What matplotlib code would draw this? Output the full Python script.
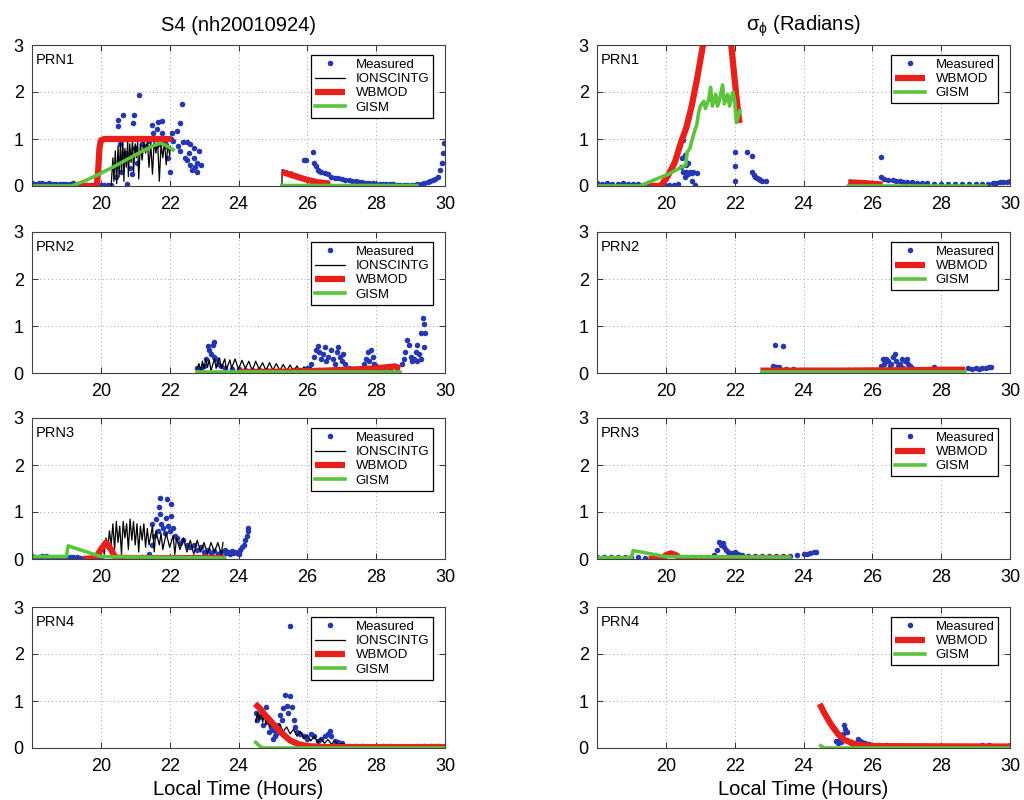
import numpy as np
import matplotlib
matplotlib.use("Agg")
import matplotlib.pyplot as plt

plt.rcParams["font.family"] = ["Liberation Sans", "DejaVu Sans"]
plt.rcParams["mathtext.fontset"] = "custom"
plt.rcParams["mathtext.rm"] = "Liberation Sans"

GAP = (np.nan, np.nan)

hour_ticks = [20, 22, 24, 26, 28, 30]
value_ticks = [0, 1, 2, 3]
prn_labels = ["PRN1", "PRN2", "PRN3", "PRN4"]

# ---------------- S4 column ----------------
s4_prn1_meas = [
    (18.0, .06), (18.1, .05), (18.2, .07), (18.3, .06), (18.4, .05), (18.5, .06), (18.6, .05),
    (18.7, .04), (18.8, .05), (18.9, .05), (19.0, .04), (19.1, .05), (19.2, .06), (19.3, .04),
    (19.4, .03), (19.5, .03), (19.6, .02), (19.7, .02), (19.8, .03), (19.9, .02), (20.0, .02),
    (20.1, .03), (20.2, .02), (20.3, .02),
    (20.4, 0.45), (20.45, 0.2), (20.5, 1.28), (20.5, 1.40), (20.55, 0.9), (20.6, 0.3), (20.65, 1.51),
    (20.7, 0.7), (20.75, 0.05), (20.8, 0.6), (20.85, 0.38), (20.9, 0.25), (20.94, 1.34), (20.97, 1.51),
    (21.0, 0.8), (21.05, 0.5), (21.11, 1.93), (21.2, 0.9), (21.3, 0.85), (21.4, 0.95), (21.5, 1.30),
    (21.52, 1.12), (21.6, 0.85), (21.63, 1.21), (21.66, 1.36), (21.7, 0.9), (21.78, 1.38), (21.78, 1.13),
    (21.85, 0.95), (21.9, 0.85), (21.95, 0.6), (22.0, 0.3), (22.05, 1.0), (22.07, 1.12), (22.1, 0.95),
    (22.2, 1.17), (22.25, 0.85), (22.3, 1.34), (22.3, 0.75), (22.36, 1.74), (22.4, 0.94), (22.45, 0.6),
    (22.5, 0.93), (22.5, 0.55), (22.55, 0.7), (22.6, 0.9), (22.6, 0.45), (22.65, 0.35), (22.7, 0.6),
    (22.7, 0.8), (22.75, 0.4), (22.8, 0.5), (22.8, 0.3), (22.85, 0.75), (22.9, 0.45),
    (25.9, 0.55), (25.95, 0.56), (26.17, 0.73), (26.2, 0.5), (26.25, 0.42), (26.3, 0.35), (26.35, 0.32),
    (26.4, 0.3), (26.5, 0.28), (26.6, 0.25), (26.7, 0.2), (26.8, 0.18), (26.9, 0.16), (27.0, 0.14),
    (27.1, 0.13), (27.2, 0.12), (27.3, 0.11), (27.4, 0.1), (27.5, 0.09), (27.6, 0.08), (27.7, 0.07),
    (27.8, 0.06), (27.9, 0.06), (28.0, 0.05), (28.1, 0.05), (28.2, 0.04), (28.3, 0.04), (28.4, 0.04),
    (28.5, 0.04), (28.6, 0.03), (28.7, 0.03), (28.8, 0.03), (28.9, 0.03), (29.0, 0.02), (29.1, 0.03),
    (29.2, 0.04), (29.3, 0.05), (29.4, 0.06), (29.5, 0.08), (29.55, 0.1), (29.65, 0.12), (29.7, 0.15),
    (29.8, 0.2), (29.86, 0.34), (29.9, 0.5), (29.95, 0.7), (29.97, 0.92),
]
s4_prn1_ion = [
    (20.30, 0.0), (20.35, 0.6), (20.38, 0.1), (20.42, 0.75), (20.46, 0.05), (20.5, 0.85), (20.53, 0.2),
    (20.57, 0.9), (20.6, 0.3), (20.64, 0.95), (20.67, 0.1), (20.7, 0.8), (20.74, 0.4), (20.78, 0.95),
    (20.8, 0.2), (20.84, 0.9), (20.88, 0.5), (20.92, 0.98), (20.95, 0.3), (21.0, 0.9), (21.03, 0.6),
    (21.07, 0.95), (21.1, 0.15), (21.15, 0.9), (21.2, 0.55), (21.25, 0.95), (21.3, 0.7), (21.35, 0.95),
    (21.4, 0.4), (21.45, 0.9), (21.5, 0.25), (21.55, 0.95), (21.6, 0.7), (21.65, 0.95), (21.7, 0.1),
    (21.75, 0.9), (21.8, 0.6), (21.85, 0.95), (21.9, 0.45), (21.95, 0.9), (22.0, 0.65), (22.02, 0.85),
    GAP,
    (25.26, 0.0), (25.27, 0.35), (25.35, 0.3), (25.4, 0.33), (25.5, 0.27), (25.55, 0.3), (25.65, 0.22),
    (25.7, 0.25), (25.8, 0.18), (25.9, 0.2), (26.0, 0.13), (26.1, 0.14), (26.2, 0.09), (26.3, 0.1),
    (26.45, 0.06), (26.6, 0.05), (26.7, 0.03),
]
s4_prn1_wb = [
    (19.2, 0.0), (19.88, 0.0), (19.92, 0.3), (19.96, 0.8), (20.0, 0.97), (20.1, 1.0), (21.0, 1.0),
    (22.06, 1.0), GAP,
    (25.26, 0.3), (25.6, 0.22), (26.0, 0.13), (26.3, 0.08), (26.66, 0.05),
]
s4_prn1_gism = [
    (18.0, 0.0), (19.16, 0.0), (19.6, 0.13), (20.0, 0.27), (20.4, 0.42), (20.8, 0.58), (21.2, 0.74),
    (21.5, 0.85), (21.72, 0.91), (21.85, 0.88), (22.1, 0.77), GAP,
    (25.26, 0.01), (29.18, 0.01),
]

s4_prn2_meas = [
    (22.8, 0.1), (22.9, 0.08), (23.0, 0.15), (23.05, 0.3), (23.1, 0.57), (23.15, 0.5), (23.2, 0.4),
    (23.25, 0.6), (23.3, 0.67), (23.3, 0.35), (23.35, 0.3), (23.4, 0.2), (23.5, 0.15), (23.6, 0.1),
    (23.8, 0.08), (24.0, 0.08), (24.2, 0.07), (24.4, 0.07), (24.6, 0.06), (24.8, 0.06), (25.0, 0.05),
    (25.2, 0.05), (25.4, 0.05), (25.6, 0.06), (25.8, 0.07), (26.0, 0.1), (26.1, 0.2), (26.2, 0.35),
    (26.25, 0.5), (26.3, 0.57), (26.35, 0.45), (26.4, 0.3), (26.45, 0.4), (26.5, 0.55), (26.55, 0.25),
    (26.6, 0.35), (26.7, 0.5), (26.75, 0.3), (26.8, 0.2), (26.85, 0.45), (26.9, 0.55), (26.95, 0.35),
    (27.0, 0.25), (27.05, 0.4), (27.1, 0.2), (27.2, 0.1), (27.4, 0.06), (27.6, 0.1), (27.65, 0.2),
    (27.7, 0.3), (27.75, 0.45), (27.8, 0.25), (27.85, 0.5), (27.9, 0.35), (27.95, 0.2), (28.0, 0.15),
    (28.2, 0.1), (28.4, 0.08), (28.6, 0.1), (28.75, 0.2), (28.8, 0.3), (28.85, 0.45), (28.9, 0.7),
    (28.95, 0.6), (29.0, 0.35), (29.05, 0.25), (29.1, 0.3), (29.15, 0.45), (29.2, 0.6), (29.25, 0.4),
    (29.3, 0.85), (29.35, 1.17), (29.4, 1.05), (29.42, 0.85), (29.38, 0.55), (29.3, 0.3), (29.2, 0.25),
]
s4_prn2_ion = [
    (22.8, 0.1), (22.85, 0.2), (22.9, 0.05), (22.95, 0.25), (23.0, 0.1), (23.05, 0.3), (23.1, 0.12),
    (23.15, 0.28), (23.2, 0.05), (23.3, 0.3), (23.35, 0.1), (23.45, 0.32), (23.5, 0.1), (23.6, 0.3),
    (23.65, 0.08), (23.75, 0.28), (23.8, 0.1), (23.9, 0.3), (24.0, 0.08), (24.1, 0.27), (24.2, 0.1),
    (24.3, 0.25), (24.4, 0.05), (24.5, 0.25), (24.6, 0.08), (24.7, 0.22), (24.8, 0.05), (24.9, 0.22),
    (25.0, 0.06), (25.1, 0.2), (25.2, 0.05), (25.3, 0.18), (25.4, 0.05), (25.5, 0.17), (25.6, 0.04),
    (25.7, 0.15), (25.8, 0.03), (25.9, 0.13), (26.0, 0.04), (26.1, 0.12), (26.2, 0.03), (26.35, 0.1),
    (26.5, 0.03), (26.6, 0.08), (26.8, 0.03), (27.0, 0.06), (27.2, 0.02),
]
s4_prn2_wb = [
    (24.0, 0.02), (25.5, 0.03), (26.5, 0.05), (27.5, 0.08), (28.0, 0.1), (28.4, 0.13), (28.55, 0.14),
    (28.7, 0.1),
]
s4_prn2_gism = [(22.8, 0.02), (28.7, 0.02)]

s4_prn3_meas = [
    (18.0, .06), (18.1, .05), (18.2, .05), (18.3, .06), (18.4, .06), (18.5, .05), (18.6, .05),
    (18.7, .04), (18.8, .04), (18.9, .05), (19.0, .04), (19.1, .05), (19.2, .05), (19.3, .04),
    (19.4, .03), (19.5, .03), (19.6, .03), (19.7, .02), (19.8, .02), (19.9, .03), (20.0, .03),
    (21.2, 0.05), (21.4, 0.1), (21.5, 0.3), (21.5, 0.74), (21.55, 0.5), (21.6, 0.85), (21.65, 0.6),
    (21.7, 1.1), (21.72, 1.3), (21.72, 0.95), (21.75, 0.75), (21.8, 0.65), (21.85, 0.55), (21.9, 0.88),
    (21.92, 1.27), (21.95, 0.7), (22.0, 0.6), (22.05, 1.17), (22.05, 0.92), (22.1, 0.67), (22.15, 0.5),
    (22.2, 0.45), (22.3, 0.35), (22.4, 0.4), (22.5, 0.3), (22.6, 0.25), (22.7, 0.3), (22.8, 0.2),
    (22.9, 0.25), (23.0, 0.15), (23.1, 0.2), (23.2, 0.12), (23.3, 0.18), (23.4, 0.1), (23.5, 0.15),
    (23.6, 0.2), (23.65, 0.12), (23.7, 0.15), (23.75, 0.1), (23.8, 0.18), (23.85, 0.12), (23.9, 0.15),
    (23.95, 0.12), (24.0, 0.1), (24.05, 0.2), (24.1, 0.25), (24.15, 0.3), (24.2, 0.4), (24.24, 0.49),
    (24.27, 0.6), (24.29, 0.67),
]
s4_prn3_ion = [
    (20.0, 0.05), (20.05, 0.3), (20.1, 0.1), (20.15, 0.45), (20.2, 0.2), (20.25, 0.6), (20.3, 0.3),
    (20.35, 0.75), (20.4, 0.2), (20.45, 0.8), (20.5, 0.35), (20.55, 0.7), (20.6, 0.1), (20.65, 0.8),
    (20.7, 0.45), (20.75, 0.75), (20.8, 0.2), (20.85, 0.85), (20.9, 0.4), (20.95, 0.8), (21.0, 0.3),
    (21.05, 0.75), (21.1, 0.15), (21.15, 0.7), (21.2, 0.4), (21.25, 0.75), (21.3, 0.25), (21.35, 0.65),
    (21.4, 0.3), (21.5, 0.7), (21.55, 0.15), (21.6, 0.6), (21.7, 0.3), (21.75, 0.55), (21.8, 0.2),
    (21.9, 0.55), (22.0, 0.25), (22.1, 0.5), (22.15, 0.1), (22.2, 0.45), (22.3, 0.2), (22.4, 0.45),
    (22.5, 0.15), (22.6, 0.4), (22.7, 0.1), (22.8, 0.4), (22.9, 0.15), (23.0, 0.35), (23.1, 0.1),
    (23.2, 0.35), (23.3, 0.15), (23.4, 0.35), (23.5, 0.1), (23.55, 0.35),
]
s4_prn3_wb = [
    (19.5, 0.0), (19.85, 0.02), (20.0, 0.2), (20.15, 0.35), (20.3, 0.2), (20.42, 0.03), (21.0, 0.02),
    (23.6, 0.02),
]
s4_prn3_gism = [(18.0, 0.05), (19.0, 0.05), (19.05, 0.28), (20.0, 0.05), (23.6, 0.02)]

s4_prn4_meas = [
    (24.5, 0.75), (24.55, 0.6), (24.6, 0.66), (24.65, 0.8), (24.7, 0.5), (24.75, 0.7), (24.8, 0.87),
    (24.85, 0.55), (24.9, 0.35), (24.95, 0.45), (25.0, 0.38), (25.0, 0.2), (25.05, 0.25), (25.1, 0.3),
    (25.15, 0.5), (25.2, 0.7), (25.25, 0.6), (25.3, 0.85), (25.35, 1.12), (25.4, 0.9), (25.45, 0.75),
    (25.5, 1.1), (25.5, 2.59), (25.55, 0.87), (25.6, 0.59), (25.65, 0.45), (25.7, 0.35), (25.8, 0.3),
    (25.9, 0.25), (26.0, 0.2), (26.1, 0.3), (26.2, 0.25), (26.3, 0.15), (26.4, 0.2), (26.5, 0.25),
    (26.6, 0.3), (26.66, 0.37), (26.7, 0.25), (26.8, 0.15), (26.9, 0.12), (27.0, 0.1), (27.2, 0.05),
    (27.4, 0.04), (27.6, 0.04), (27.8, 0.03), (28.0, 0.03), (28.2, 0.04), (28.4, 0.04), (28.6, 0.03),
    (28.8, 0.03), (29.0, 0.03), (29.2, 0.04), (29.4, 0.04), (29.6, 0.04), (29.8, 0.04), (30.0, 0.04),
]
s4_prn4_ion = [
    (24.5, 0.55), (24.55, 0.75), (24.6, 0.6), (24.65, 0.8), (24.7, 0.55), (24.75, 0.7), (24.8, 0.5),
    (24.85, 0.65), (24.9, 0.45), (25.0, 0.55), (25.1, 0.4), (25.2, 0.5), (25.3, 0.35), (25.4, 0.45),
    (25.5, 0.3), (25.6, 0.4), (25.7, 0.25), (25.8, 0.35), (25.9, 0.2), (26.0, 0.28), (26.1, 0.15),
    (26.2, 0.25), (26.3, 0.12), (26.4, 0.2), (26.5, 0.1), (26.6, 0.18), (26.7, 0.08), (26.8, 0.15),
    (26.9, 0.06), (27.0, 0.1), (27.2, 0.04), (27.5, 0.03), (28.0, 0.02), (29.0, 0.02), (30.0, 0.02),
]
s4_prn4_wb = [
    (24.48, 0.94), (24.6, 0.86), (24.75, 0.72), (25.0, 0.52), (25.25, 0.32), (25.5, 0.16),
    (25.75, 0.08), (26.0, 0.04), (26.5, 0.02), (30.0, 0.02),
]
s4_prn4_gism = [(24.5, 0.12), (24.6, 0.05), (24.7, 0.0), (30.0, 0.0)]

# ---------------- sigma phi column ----------------
sp_prn1_meas = [
    (18.0, .06), (18.15, .05), (18.3, .06), (18.45, .05), (18.6, .05), (18.75, .06), (18.9, .05),
    (19.05, .05), (19.2, .04), (19.35, .03), (19.5, .02), (19.65, .02), (19.8, .02), (19.95, .02),
    (20.1, .03), (20.25, .03), (20.35, .05),
    (20.5, 0.98), (20.45, 0.4), (20.48, 0.6), (20.5, 0.3), (20.55, 0.65), (20.55, 0.2), (20.6, 0.45),
    (20.6, 0.3), (20.65, 0.25), (20.65, 0.5), (20.7, 0.3), (20.75, 0.28), (20.75, 0.1), (20.8, 0.3),
    (20.85, 0.02), (20.9, 0.28),
    (22.0, 0.72), (22.0, 0.43), (22.0, 0.1), (22.35, 0.73), (22.5, 0.63), (22.5, 0.3), (22.55, 0.23),
    (22.6, 0.2), (22.65, 0.18), (22.7, 0.15), (22.75, 0.12), (22.8, 0.1), (22.9, 0.1),
    (26.26, 0.62), (26.26, 0.2), (26.35, 0.15), (26.45, 0.13), (26.6, 0.12), (26.7, 0.11), (26.8, 0.1),
    (26.9, 0.09), (27.0, 0.08), (27.15, 0.08), (27.3, 0.07), (27.45, 0.06), (27.6, 0.06), (27.8, 0.05),
    (28.0, 0.05), (28.2, 0.05), (28.4, 0.05), (28.6, 0.05), (28.8, 0.05), (29.0, 0.05), (29.2, 0.05),
    (29.35, 0.05), (29.5, 0.06), (29.6, 0.07), (29.7, 0.08), (29.8, 0.08), (29.9, 0.09), (30.0, 0.1),
]
sp_prn1_wb = [
    (19.5, 0.0), (19.85, 0.0), (20.05, 0.2), (20.26, 0.5), (20.45, 0.95), (20.6, 1.25), (20.75, 1.7),
    (20.9, 2.25), (21.07, 2.96), (21.3, 3.6), (21.5, 3.9), (21.7, 3.6), (21.9, 3.0), (22.05, 1.9),
    (22.14, 1.34), GAP,
    (25.3, 0.08), (25.8, 0.06), (26.3, 0.03),
]
sp_prn1_gism = [
    (18.0, 0.0), (19.25, 0.0), (19.5, 0.08), (19.8, 0.17), (20.1, 0.26), (20.3, 0.34), (20.58, 0.45),
    (20.62, 0.72), (20.7, 0.8), (20.75, 0.95), (20.85, 1.2), (20.9, 1.3), (20.95, 1.55), (21.0, 1.7),
    (21.1, 1.8), (21.15, 1.65), (21.25, 1.85), (21.3, 2.1), (21.35, 1.7), (21.45, 1.95), (21.5, 1.7),
    (21.55, 1.8), (21.65, 2.15), (21.7, 1.75), (21.8, 1.95), (21.85, 1.7), (21.95, 2.0), (22.0, 1.8),
    (22.05, 1.35), (22.15, 1.6), GAP,
    (25.3, 0.0), (29.3, 0.0),
]

sp_prn2_meas = [
    (22.9, 0.05), (23.1, 0.15), (23.16, 0.6), (23.2, 0.13), (23.3, 0.12), (23.41, 0.58), (23.5, 0.08),
    (23.7, 0.08), (23.9, 0.07), (24.1, 0.07), (24.3, 0.06), (24.5, 0.06), (24.7, 0.06), (24.9, 0.06),
    (25.1, 0.06), (25.3, 0.06), (25.5, 0.06), (25.7, 0.06), (25.9, 0.06), (26.1, 0.07), (26.25, 0.15),
    (26.3, 0.3), (26.35, 0.2), (26.4, 0.3), (26.45, 0.25), (26.5, 0.15), (26.55, 0.2), (26.6, 0.35),
    (26.65, 0.4), (26.7, 0.25), (26.75, 0.15), (26.8, 0.2), (26.85, 0.3), (26.9, 0.1), (26.95, 0.25),
    (27.0, 0.3), (27.05, 0.2), (27.1, 0.15), (27.15, 0.1), (27.3, 0.06), (27.5, 0.06), (27.7, 0.06),
    (27.8, 0.12), (28.0, 0.07), (28.2, 0.07), (28.4, 0.06), (28.6, 0.06), (28.77, 0.1), (28.9, 0.08),
    (29.0, 0.1), (29.1, 0.08), (29.2, 0.1), (29.3, 0.1), (29.4, 0.12), (29.45, 0.13),
]
sp_prn2_wb = [(22.75, 0.05), (25.0, 0.05), (27.0, 0.06), (28.0, 0.07), (28.7, 0.07)]
sp_prn2_gism = [(22.8, 0.03), (28.7, 0.03)]

sp_prn3_meas = [
    (18.0, .05), (18.2, .05), (18.4, .04), (18.6, .05), (18.8, .05), (19.0, .04), (19.2, .04),
    (19.4, .03), (19.6, .03), (19.8, .03), (20.6, .04), (20.8, .04), (21.0, .05), (21.2, .05),
    (21.4, 0.08), (21.5, 0.2), (21.55, 0.37), (21.6, 0.3), (21.65, 0.33), (21.7, 0.25), (21.75, 0.2),
    (21.8, 0.15), (21.9, 0.12), (22.0, 0.15), (22.1, 0.1), (22.2, 0.08), (22.4, 0.06), (22.6, 0.06),
    (22.8, 0.06), (23.0, 0.06), (23.2, 0.06), (23.4, 0.06), (23.6, 0.06), (23.8, 0.08), (24.0, 0.1),
    (24.1, 0.11), (24.2, 0.12), (24.3, 0.14), (24.35, 0.15),
]
sp_prn3_wb = [
    (19.5, 0.0), (19.9, 0.02), (20.0, 0.08), (20.15, 0.12), (20.3, 0.08), (20.4, 0.02), (23.6, 0.02),
]
sp_prn3_gism = [(18.0, 0.03), (19.0, 0.03), (19.05, 0.18), (20.0, 0.05), (23.6, 0.04)]

sp_prn4_meas = [
    (24.95, 0.15), (25.0, 0.1), (25.05, 0.2), (25.1, 0.12), (25.15, 0.3), (25.19, 0.48), (25.2, 0.4),
    (25.25, 0.35), (25.3, 0.15), (25.4, 0.08), (25.5, 0.1), (25.58, 0.2), (25.65, 0.15), (25.7, 0.12),
    (25.8, 0.1), (25.9, 0.08), (26.0, 0.07), (26.2, 0.06), (26.4, 0.06), (26.6, 0.05), (26.8, 0.05),
    (27.0, 0.05), (27.2, 0.05), (27.4, 0.05), (27.6, 0.05), (27.8, 0.05), (28.0, 0.05), (28.2, 0.05),
    (28.4, 0.05), (28.6, 0.05), (28.8, 0.05), (29.0, 0.05), (29.2, 0.06), (29.4, 0.06), (29.6, 0.05),
    (29.8, 0.05), (30.0, 0.06),
]
sp_prn4_wb = [
    (24.47, 0.94), (24.6, 0.75), (24.8, 0.5), (25.0, 0.3), (25.2, 0.17), (25.5, 0.08), (25.8, 0.05),
    (26.0, 0.04), (30.0, 0.03),
]
sp_prn4_gism = [(24.5, 0.05), (24.6, 0.0), (30.0, 0.0)]

s4_panels = [
    (s4_prn1_meas, s4_prn1_ion, s4_prn1_wb, s4_prn1_gism),
    (s4_prn2_meas, s4_prn2_ion, s4_prn2_wb, s4_prn2_gism),
    (s4_prn3_meas, s4_prn3_ion, s4_prn3_wb, s4_prn3_gism),
    (s4_prn4_meas, s4_prn4_ion, s4_prn4_wb, s4_prn4_gism),
]
sp_panels = [
    (sp_prn1_meas, None, sp_prn1_wb, sp_prn1_gism),
    (sp_prn2_meas, None, sp_prn2_wb, sp_prn2_gism),
    (sp_prn3_meas, None, sp_prn3_wb, sp_prn3_gism),
    (sp_prn4_meas, None, sp_prn4_wb, sp_prn4_gism),
]

blue = "#2537b2"
red = "#e8201c"
green = "#5cc43c"


def xy(pairs):
    arr = np.array(pairs, dtype=float)
    return arr[:, 0], arr[:, 1]


def draw_panel(ax, series, label, bottom):
    meas, ion, wb, gism = series
    t, v = xy(meas)
    ax.plot(t, v, linestyle="none", marker="o", markersize=4, markeredgewidth=0,
            color=blue, label="Measured")
    if ion is not None:
        t, v = xy(ion)
        ax.plot(t, v, color="black", linewidth=0.9, label="IONSCINTG")
    t, v = xy(wb)
    ax.plot(t, v, color=red, linewidth=4.5, label="WBMOD", solid_capstyle="butt")
    t, v = xy(gism)
    ax.plot(t, v, color=green, linewidth=2.6, label="GISM")

    ax.set_xlim(18, 30)
    ax.set_ylim(0, 3)
    ax.set_xticks(hour_ticks)
    ax.set_yticks(value_ticks)
    ax.grid(True, linestyle=(0, (1, 3)), color="#a0a0a0", linewidth=0.7)
    ax.tick_params(direction="in", top=True, right=True, length=4, width=0.7,
                   labelsize=13, colors="#303030", labelcolor="black")
    ax.tick_params(axis="x", pad=7)
    ax.tick_params(axis="y", pad=6)
    for s in ax.spines.values():
        s.set_color("#404040")
        s.set_linewidth(0.8)
    ax.text(0.008, 0.94, label, transform=ax.transAxes, ha="left", va="top", fontsize=10.5)
    leg = ax.legend(loc="upper right", bbox_to_anchor=(0.972, 0.93), borderaxespad=0,
                    fontsize=9.5, numpoints=1, handlelength=2.3, handletextpad=0.8,
                    labelspacing=0.15, borderpad=0.3, fancybox=False, framealpha=1,
                    edgecolor="black")
    leg.get_frame().set_linewidth(0.9)
    if bottom:
        ax.set_xlabel("Local Time (Hours)", fontsize=14.5, labelpad=4)


fig = plt.figure(figsize=(10.24, 8), dpi=100)
W, H = 1024, 800
col_left = [32, 597]
row_top = [45, 232, 418, 607]
ax_w, ax_h = 413, 141

for c, panels in enumerate([s4_panels, sp_panels]):
    for r in range(4):
        ax = fig.add_axes([col_left[c] / W, 1 - (row_top[r] + ax_h) / H, ax_w / W, ax_h / H])
        draw_panel(ax, panels[r], prn_labels[r], r == 3)
        if r == 0:
            title = "S4 (nh20010924)" if c == 0 else r"$\mathrm{\sigma_{\phi}}$ (Radians)"
            ax.set_title(title, fontsize=14.5, pad=10)

fig.savefig("out.png", dpi=100)
